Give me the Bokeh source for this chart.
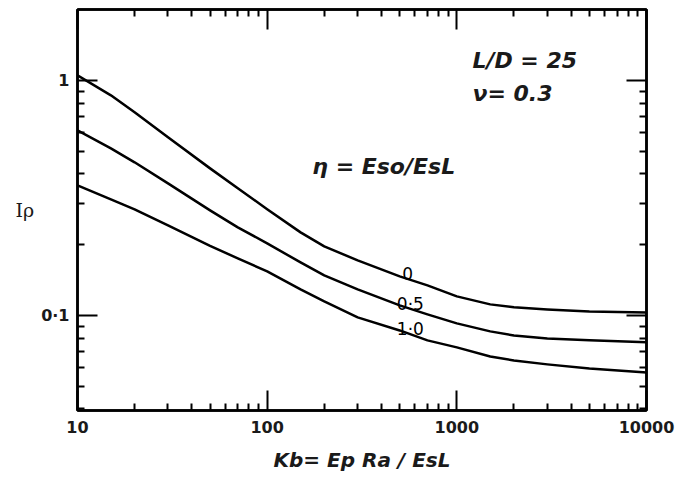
from bokeh.plotting import figure
from bokeh.models import LogAxis, CustomJSTickFormatter, Label, FixedTicker
from bokeh.embed import file_html
from bokeh.resources import INLINE

# Data
kb = [10, 15, 20, 30, 50, 70, 100, 150, 200, 300, 500, 700, 1000, 1500, 2000, 3000, 5000, 10000]
ip_eta_0 = [1.050, 0.863, 0.731, 0.572, 0.422, 0.347, 0.283, 0.2255, 0.1966, 0.1714, 0.1466,
            0.1342, 0.1205, 0.1114, 0.1082, 0.1060, 0.1040, 0.1030]
ip_eta_05 = [0.6125, 0.5135, 0.4478, 0.3645, 0.2797, 0.2368, 0.2025, 0.1680, 0.1480, 0.1290, 0.1103,
             0.1010, 0.0925, 0.0855, 0.0822, 0.0798, 0.0783, 0.0768]
ip_eta_10 = [0.3573, 0.3115, 0.2827, 0.2415, 0.1976, 0.1748, 0.1538, 0.1290, 0.1147, 0.0981, 0.0863,
             0.0783, 0.0731, 0.0669, 0.0643, 0.0619, 0.0595, 0.0572]
curve_labels = ["0", "0·5", "1·0"]

x_major = [10, 100, 1000, 10000]
x_minor = [20, 30, 40, 50, 60, 70, 80, 90, 200, 300, 400, 500, 600, 700, 800, 900,
           2000, 3000, 4000, 5000, 6000, 7000, 8000, 9000]
y_major = [0.1, 1]
y_minor = [0.04, 0.05, 0.06, 0.07, 0.08, 0.09, 0.2, 0.3, 0.4, 0.5, 0.6, 0.7, 0.8, 0.9]

p = figure(width=677, height=478, x_axis_type="log", y_axis_type="log",
           x_range=(10, 10000), y_range=(0.0394, 2.0),
           x_axis_location=None, y_axis_location=None,
           output_backend="svg", toolbar_location=None,
           min_border_left=77, min_border_right=31, min_border_top=9, min_border_bottom=68)
p.grid.visible = False
p.outline_line_color = "black"
p.outline_line_width = 2.5
p.background_fill_color = "white"
p.border_fill_color = "white"

xfmt = CustomJSTickFormatter(code="return Math.round(tick).toString();")
yfmt = CustomJSTickFormatter(code="if (Math.abs(tick - 0.1) < 1e-9) { return '0·1'; } return Math.round(tick).toString();")
nofmt = CustomJSTickFormatter(code="return ' ';")

def make_axis(major, minor, fmt, labelled):
    ax = LogAxis(formatter=fmt, ticker=FixedTicker(ticks=major, minor_ticks=minor))
    ax.axis_line_width = 2.5
    ax.axis_line_color = "black"
    ax.major_tick_in = 20
    ax.major_tick_out = 0
    ax.minor_tick_in = 7
    ax.minor_tick_out = 0
    ax.major_tick_line_width = 2
    ax.minor_tick_line_width = 2
    ax.major_tick_line_color = "black"
    ax.minor_tick_line_color = "black"
    ax.major_label_text_font = "DejaVu Sans"
    ax.major_label_text_font_style = "bold"
    ax.major_label_text_color = "#1a1a1a"
    if labelled:
        ax.major_label_text_font_size = "16px"
    else:
        ax.major_label_text_font_size = "1px"
        ax.major_label_text_alpha = 0
        ax.major_label_standoff = 0
    return ax

xa = make_axis(x_major, x_minor, xfmt, True)
xa.major_label_standoff = 10
xa.axis_label = "Kb= Ep Ra / EsL"
xa.axis_label_text_font = "DejaVu Sans"
xa.axis_label_text_font_style = "bold italic"
xa.axis_label_text_font_size = "20px"
xa.axis_label_standoff = 12
xa.axis_label_text_color = "#1a1a1a"
p.add_layout(xa, "below")

ya = make_axis(y_major, y_minor, yfmt, True)
ya.major_label_standoff = 8
ya.axis_label = "Iρ"
ya.axis_label_orientation = "horizontal"
ya.axis_label_text_font = "DejaVu Serif"
ya.axis_label_text_font_style = "normal"
ya.axis_label_text_font_size = "19px"
ya.axis_label_text_color = "#1a1a1a"
ya.axis_label_standoff = 4
p.add_layout(ya, "left")

p.add_layout(make_axis(x_major, x_minor, nofmt, False), "above")
p.add_layout(make_axis(y_major, y_minor, nofmt, False), "right")

for ys in (ip_eta_0, ip_eta_05, ip_eta_10):
    p.line(kb, ys, line_color="black", line_width=2.5, line_join="round")

txt = dict(text_font="DejaVu Sans", text_font_style="bold italic",
           text_font_size="22px", text_color="#1a1a1a")
p.add_layout(Label(x=1208, y=1.07, text="L/D = 25", **txt))
p.add_layout(Label(x=1208, y=0.78, text="ν= 0.3", **txt))
p.add_layout(Label(x=173, y=0.382, text="η = Eso/EsL", **txt))

lbl = dict(text_font="DejaVu Sans", text_font_size="17px", text_color="black",
           text_align="center", text_baseline="middle")
p.add_layout(Label(x=550, y=0.1507, text=curve_labels[0], **lbl))
p.add_layout(Label(x=569, y=0.1123, text=curve_labels[1], **lbl))
p.add_layout(Label(x=569, y=0.0871, text=curve_labels[2], **lbl))

open("out.html", "w").write(file_html(p, INLINE))
